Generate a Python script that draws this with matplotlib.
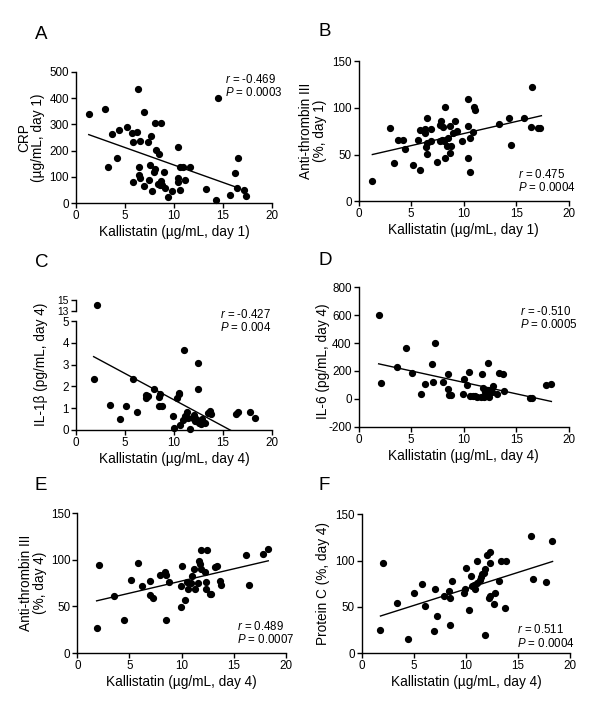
import numpy as np
import matplotlib
matplotlib.use('Agg')
import matplotlib.pyplot as plt

plt.rcParams['font.family'] = ['Liberation Sans', 'DejaVu Sans']
plt.rcParams['mathtext.fontset'] = 'custom'
plt.rcParams['mathtext.rm'] = 'Liberation Sans'
plt.rcParams['mathtext.it'] = 'Liberation Sans:italic'
plt.rcParams['axes.unicode_minus'] = False

# panel A: CRP day 1
xa = [1.3, 3.0, 6.3, 14.5, 3.7, 4.4, 5.2, 5.7, 6.2, 6.9, 8.1, 8.7, 5.8, 6.5, 7.3, 7.7, 4.2, 3.3, 8.2, 8.5,
      10.4, 7.6, 6.45, 6.4, 6.5, 5.8, 6.9, 7.4, 7.8, 8.0, 8.1, 8.4, 8.6, 8.7, 9.0, 8.8, 9.1, 9.4, 9.8, 10.4,
      10.4, 10.6, 10.6, 10.9, 11.1, 11.6, 13.3, 14.3, 15.7, 16.2, 16.5, 16.4, 17.1, 17.3]
ya = [341, 357, 435, 399, 263, 278, 289, 266, 271, 347, 307, 304, 234, 238, 231, 256, 173, 138, 201, 187,
      212, 146, 136, 107, 95, 79, 64, 87, 45, 118, 128, 73, 69, 84, 120, 67, 59, 22, 46, 96,
      82, 51, 137, 138, 86, 138, 55, 10, 32, 115, 170, 59, 51, 27]
fit_xa = [1.3, 16.3]
fit_ya = [261, 61]

# panel B: anti-thrombin III day 1
xb = [1.3, 3.0, 3.4, 3.7, 4.2, 4.4, 5.2, 5.6, 5.8, 5.8, 6.2, 6.3, 6.3, 6.4, 6.5, 6.5, 6.5, 6.9, 6.9, 7.5,
      7.7, 7.7, 7.8, 7.9, 8.0, 8.2, 8.2, 8.1, 8.4, 8.5, 8.7, 8.7, 8.8, 9.0, 9.2, 9.4, 9.8, 10.4, 10.4, 10.4,
      10.6, 10.6, 10.9, 11.0, 11.1, 13.4, 14.3, 14.5, 15.7, 16.5, 16.4, 17.1, 17.3]
yb = [22, 78, 41, 66, 66, 56, 39, 66, 33, 76, 75, 77, 73, 58, 62, 89, 51, 77, 64, 42,
      65, 82, 86, 66, 79, 101, 46, 65, 59, 68, 81, 52, 59, 73, 86, 75, 64, 109, 81, 46,
      68, 31, 74, 101, 98, 83, 89, 60, 89, 122, 79, 78, 78]
fit_xb = [1.3, 17.4]
fit_yb = [50, 91.5]

# panel C: IL-1b day 4 (one outlier on the broken part of the axis)
xc = [2.1, 1.8, 4.5, 3.5, 5.1, 5.8, 6.2, 7.1, 7.1, 7.3, 8.0, 8.5, 8.6, 8.5, 8.8, 9.9, 10.0, 10.3, 10.5, 10.5,
      10.6, 10.9, 11.0, 11.1, 11.3, 11.4, 11.6, 11.9, 12.0, 12.1, 12.2, 12.4, 12.4, 12.5, 12.8, 12.9, 13.2, 13.5,
      13.7, 13.8, 16.3, 16.5, 17.8, 18.3]
yc = [14.1, 2.35, 0.48, 1.14, 1.09, 2.34, 0.82, 1.48, 1.58, 1.54, 1.89, 1.52, 1.65, 1.11, 1.11, 0.62, 0.09,
      1.48, 1.65, 1.71, 0.23, 0.43, 3.68, 0.65, 0.8, 0.55, 0.03, 0.55, 0.66, 0.38, 0.48, 1.89, 3.06, 0.31,
      0.25, 0.49, 0.32, 0.75, 0.86, 0.72, 0.72, 0.82, 0.83, 0.55]
fit_xc = [1.8, 18.3]
fit_yc = [3.37, -0.64]

# panel D: IL-6 day 4
xd = [1.9, 2.1, 3.6, 4.5, 5.1, 5.9, 6.3, 7.0, 7.1, 7.3, 8.0, 8.5, 8.5, 8.6, 8.8, 9.9, 10.0, 10.3, 10.5, 10.6,
      10.9, 11.1, 11.3, 11.6, 11.7, 11.8, 11.9, 12.0, 12.2, 12.3, 12.3, 12.4, 12.7, 12.8, 13.2, 13.4, 13.7, 13.8,
      16.3, 16.5, 17.8, 18.3]
yd = [604, 113, 230, 366, 182, 38, 103, 251, 120, 400, 120, 177, 72, 29, 29, 38, 141, 98, 189, 17,
      22, 22, 14, 10, 177, 81, 14, 50, 24, 62, 256, 14, 46, 93, 36, 187, 175, 55, 5, 5, 96, 105]
fit_xd = [1.9, 18.35]
fit_yd = [251, -19]

# panel E: anti-thrombin III day 4
xe = [1.85, 2.1, 3.5, 4.5, 5.1, 5.8, 6.2, 7.0, 7.0, 7.3, 7.9, 8.4, 8.5, 8.5, 8.8, 9.9, 10.0, 9.9, 10.3, 10.5,
      10.6, 10.9, 11.0, 11.2, 11.3, 11.6, 11.7, 11.8, 11.9, 12.4, 11.9, 12.2, 12.3, 12.3, 12.7, 12.8, 13.2, 13.4,
      13.7, 13.8, 16.2, 16.5, 17.8, 18.3]
ye = [27, 95, 61, 35, 78, 97, 72, 77, 62, 59, 84, 87, 84, 35, 76, 72, 93, 49, 57, 76,
      69, 75, 83, 90, 69, 75, 99, 96, 111, 111, 90, 87, 76, 69, 63, 63, 92, 93, 77, 73, 105, 73, 106, 112]
fit_xe = [1.85, 18.3]
fit_ye = [56, 99]

# panel F: protein C day 4
xf = [1.8, 2.0, 3.4, 4.4, 5.0, 5.8, 6.1, 6.96, 7.0, 7.2, 7.9, 8.4, 8.5, 8.5, 8.7, 9.8, 9.9, 10.0, 10.3, 10.5,
      10.6, 10.8, 10.9, 11.1, 11.1, 11.3, 11.4, 11.5, 11.7, 11.85, 11.8, 12.0, 12.3, 12.3, 12.3, 12.2, 12.65,
      12.8, 13.2, 13.35, 13.8, 13.7, 16.2, 16.4, 17.7, 18.2]
yf = [25, 97, 54, 15, 65, 75, 51, 24, 69, 40, 62, 67, 60, 30, 78, 65, 69, 92, 46, 83,
      72, 73, 69, 76, 100, 79, 82, 85, 87, 91, 19, 106, 97, 109, 62, 60, 53, 65, 78, 99,
      100, 49, 126, 80, 77, 121]
fit_xf = [1.8, 18.3]
fit_yf = [40, 99]

W, H = 600, 713
fig = plt.figure(figsize=(W / 100, H / 100), dpi=100)

TICK_FS = 8.4
LABEL_FS = 9.8
STAT_FS = 8.3


def box(l, t, r, b):
    return [l / W, (H - b) / H, (r - l) / W, (b - t) / H]


def style(ax, ylim, yticks):
    for s in ['top', 'right']:
        ax.spines[s].set_visible(False)
    for s in ['left', 'bottom']:
        ax.spines[s].set_linewidth(1.0)
    ax.set_xlim(0, 20)
    ax.set_xticks([0, 5, 10, 15, 20])
    ax.set_ylim(*ylim)
    ax.set_yticks(yticks)
    ax.tick_params(direction='out', length=3.6, width=1.0, labelsize=TICK_FS, pad=1.5)


def panel(ax, x, y, fx, fy, stats, sx, sy):
    ax.plot(x, y, 'o', color='black', markersize=4.2, clip_on=False, zorder=3)
    ax.plot(fx, fy, '-', color='black', linewidth=1.0)
    ax.annotate(stats[0], (sx, sy), xycoords='axes fraction', fontsize=STAT_FS, va='center')
    ax.annotate(stats[1], (sx, sy), xycoords='axes fraction', xytext=(0, -9.4),
                textcoords='offset points', fontsize=STAT_FS, va='center')


def xlab(ax, day):
    ax.set_xlabel('Kallistatin (µg/mL, day %d)' % day, fontsize=LABEL_FS, labelpad=2)


# A
ax = fig.add_axes(box(76, 72, 272, 203))
style(ax, (0, 500), [0, 100, 200, 300, 400, 500])
panel(ax, xa, ya, fit_xa, fit_ya, ['$\\it{r}$ = -0.469', '$\\it{P}$ = 0.0003'], 0.76, 0.94)
xlab(ax, 1)
ax.set_ylabel('CRP\n(µg/mL, day 1)', fontsize=LABEL_FS, linespacing=1.0)
ax.yaxis.set_label_coords(-0.158, 0.5)
fig.text(35 / W, 1 - 39 / H, 'A', fontsize=13.5)

# B
ax = fig.add_axes(box(358.7, 61, 568.7, 201.3))
style(ax, (0, 150), [0, 50, 100, 150])
panel(ax, xb, yb, fit_xb, fit_yb, ['$\\it{r}$ = 0.475', '$\\it{P}$ = 0.0004'], 0.76, 0.19)
xlab(ax, 1)
ax.set_ylabel('Anti-thrombin III\n(%, day 1)', fontsize=LABEL_FS, linespacing=1.0)
ax.yaxis.set_label_coords(-0.151, 0.5)
fig.text(318 / W, 1 - 36 / H, 'B', fontsize=13.5)

# C with broken y axis
ax = fig.add_axes(box(76, 321.3, 272, 429.7))
style(ax, (0, 5), [0, 1, 2, 3, 4, 5])
xc_arr = np.array(xc)
yc_arr = np.array(yc)
low = yc_arr <= 5
panel(ax, xc_arr[low], yc_arr[low], fit_xc, fit_yc, ['$\\it{r}$ = -0.427', '$\\it{P}$ = 0.004'], 0.735, 1.067)
ax.lines[-1].set_clip_on(True)
xlab(ax, 4)
ax.set_ylabel('IL-1β (pg/mL, day 4)', fontsize=LABEL_FS)
ax.yaxis.set_label_coords(-0.143, 0.606)
axt = fig.add_axes(box(76, 300, 272, 311))
axt.set_xlim(0, 20)
axt.set_ylim(13, 15)
axt.set_yticks([13, 15])
for s in ['top', 'right', 'bottom']:
    axt.spines[s].set_visible(False)
axt.spines['left'].set_linewidth(1.0)
axt.set_xticks([])
axt.patch.set_visible(False)
axt.tick_params(direction='out', length=3.6, width=1.0, labelsize=7.4, pad=1.5)
axt.plot(xc_arr[~low], yc_arr[~low], 'o', color='black', markersize=4.2, clip_on=False)
fig.text(35 / W, 1 - 267 / H, 'C', fontsize=13.5)

# D
ax = fig.add_axes(box(358.7, 287.3, 568.7, 426.7))
style(ax, (-200, 800), [-200, 0, 200, 400, 600, 800])
panel(ax, xd, yd, fit_xd, fit_yd, ['$\\it{r}$ = -0.510', '$\\it{P}$ = 0.0005'], 0.768, 0.825)
xlab(ax, 4)
ax.set_ylabel('IL-6 (pg/mL, day 4)', fontsize=LABEL_FS)
ax.yaxis.set_label_coords(-0.137, 0.47)
fig.text(319 / W, 1 - 265 / H, 'D', fontsize=13.5)

# E
ax = fig.add_axes(box(77.3, 513.3, 286, 653))
style(ax, (0, 150), [0, 50, 100, 150])
panel(ax, xe, ye, fit_xe, fit_ye, ['$\\it{r}$ = 0.489', '$\\it{P}$ = 0.0007'], 0.764, 0.193)
xlab(ax, 4)
ax.set_ylabel('Anti-thrombin III\n(%, day 4)', fontsize=LABEL_FS, linespacing=1.0)
ax.yaxis.set_label_coords(-0.145, 0.5)
fig.text(35 / W, 1 - 490 / H, 'E', fontsize=13.5)

# F
ax = fig.add_axes(box(361.7, 514.3, 570.3, 653))
style(ax, (0, 150), [0, 50, 100, 150])
panel(ax, xf, yf, fit_xf, fit_yf, ['$\\it{r}$ = 0.511', '$\\it{P}$ = 0.0004'], 0.743, 0.166)
xlab(ax, 4)
ax.set_ylabel('Protein C (%, day 4)', fontsize=LABEL_FS)
ax.yaxis.set_label_coords(-0.152, 0.5)
fig.text(319 / W, 1 - 490 / H, 'F', fontsize=13.5)

fig.savefig('out.png', dpi=100)
